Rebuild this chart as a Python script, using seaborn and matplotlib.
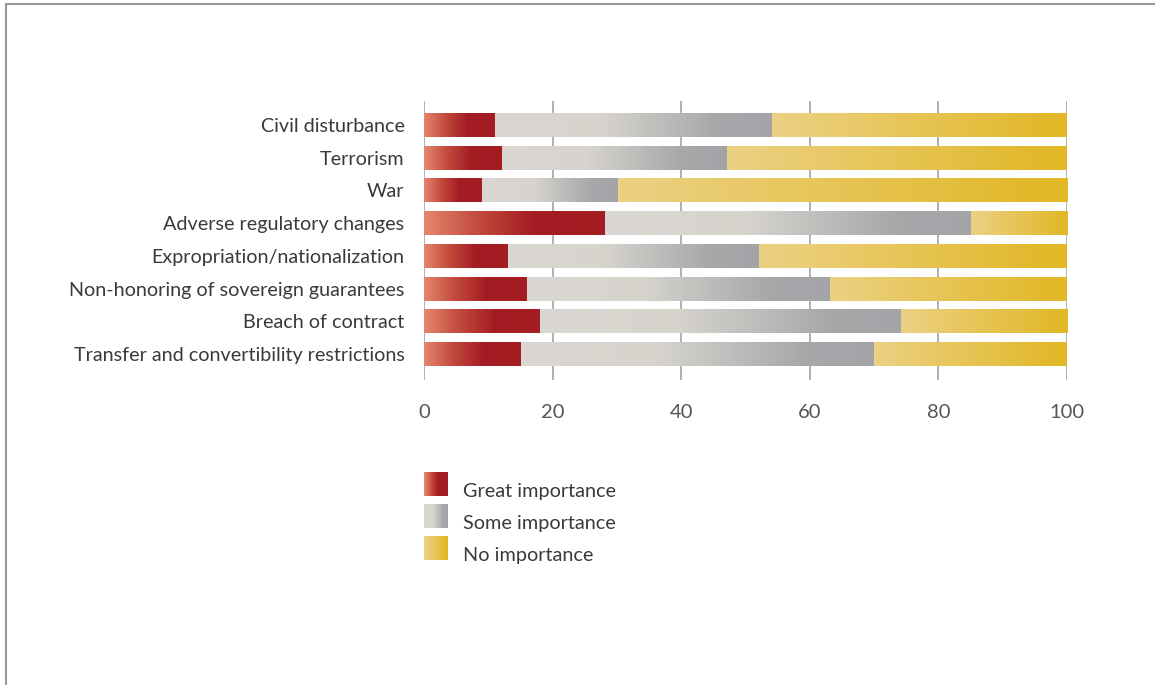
import numpy as np
import pandas as pd
import seaborn as sns
import matplotlib.pyplot as plt
from matplotlib.colors import LinearSegmentedColormap
from matplotlib.patches import Rectangle
from matplotlib.legend_handler import HandlerBase
from matplotlib.lines import Line2D

# survey data (percent of respondents)
risks = ["Civil disturbance", "Terrorism", "War", "Adverse regulatory changes",
         "Expropriation/nationalization", "Non-honoring of sovereign guarantees",
         "Breach of contract", "Transfer and convertibility restrictions"]
great = [11, 12, 9, 28, 13, 16, 18, 15]
some = [43, 35, 21, 57, 39, 47, 56, 55]
none_ = [46, 53, 70, 15, 48, 37, 26, 30]
levels = ["Great importance", "Some importance", "No importance"]
xticks = [0, 20, 40, 60, 80, 100]

sns.set_style("white")
plt.rcParams["font.family"] = ["Lato", "DejaVu Sans"]
text_col = "#3a3a3a"

# gradients for each level (left -> right within a segment)
cmaps = {
    "Great importance": LinearSegmentedColormap.from_list(
        "red", [(0, "#e6866f"), (0.3, "#c24a3c"), (0.6, "#a51d24"), (1, "#a31c22")]),
    "Some importance": LinearSegmentedColormap.from_list(
        "gray", [(0, "#dad7d2"), (0.38, "#d7d4ce"), (0.8, "#a7a8aa"), (1, "#a3a4a7")]),
    "No importance": LinearSegmentedColormap.from_list(
        "yel", [(0, "#ecd184"), (1, "#e1b724")]),
}

df = pd.DataFrame({"risk": risks, "great": great, "some": some, "none": none_})
df["c1"] = df["great"]
df["c2"] = df["great"] + df["some"]
df["c3"] = df["c2"] + df["none"]

fig = plt.figure(figsize=(11.55, 6.85), dpi=100)
ax = fig.add_axes([424 / 1155, 1 - 380 / 685, 643 / 1155, 279 / 685])

# stacked: draw totals back to front
for col, lev in zip(["c3", "c2", "c1"], levels[::-1]):
    n0 = len(ax.patches)
    sns.barplot(data=df, x=col, y="risk", orient="h", color="white", width=0.73,
                saturation=1, ax=ax, zorder=3)
    for p in ax.patches[n0:]:
        p.set_gid(lev)

# replace each visible segment with a gradient image
ax.set_xlim(0, 100)
ax.set_ylim(7.795, -0.734)
starts = {"Great importance": None, "Some importance": "c1", "No importance": "c2"}
for p in list(ax.patches):
    lev = p.get_gid()
    y0 = p.get_y()
    h = p.get_height()
    i = int(round(y0 + h / 2))
    x1 = p.get_x() + p.get_width()
    x0 = 0 if starts[lev] is None else df[starts[lev]].iloc[i]
    grad = np.linspace(0, 1, 256).reshape(1, -1)
    ax.imshow(grad, cmap=cmaps[lev], aspect="auto", extent=(x0, x1, y0 + h, y0),
              zorder=3, interpolation="bilinear")
    p.set_visible(False)

ax.set_xlim(0, 100)
ax.set_ylim(7.795, -0.734)
ax.set_xticks(xticks)
ax.set_xticklabels([str(t) for t in xticks])
ax.grid(axis="x", color="#aaaaaa", linewidth=1.3, zorder=0)
ax.grid(axis="y", visible=False)
for s in ax.spines.values():
    s.set_visible(False)
ax.tick_params(axis="x", length=0, pad=17, labelsize=14.5, labelcolor="#555555")
ax.tick_params(axis="y", length=0, pad=14, labelsize=14.2, labelcolor=text_col)
ax.set_xlabel("")
ax.set_ylabel("")


class GradientHandler(HandlerBase):
    # swatch sits a bit higher than the text centre, like the original
    def create_artists(self, legend, orig_handle, xdescent, ydescent, width,
                       height, fontsize, trans):
        cmap = cmaps[orig_handle.get_label()]
        n = 24
        arts = []
        for k in range(n):
            r = Rectangle((-xdescent + width * k / n, -ydescent + 4.3), width / n + 0.3, height,
                          facecolor=cmap(k / (n - 1)), edgecolor="none", transform=trans)
            arts.append(r)
        return arts


handles = [Line2D([], [], label=l) for l in levels]
fig.legend(handles=handles, labels=levels, handler_map={Line2D: GradientHandler()},
           loc="upper left", bbox_to_anchor=(424 / 1155, 1 - 478 / 685), frameon=False,
           fontsize=14.3, labelcolor=text_col, handlelength=1.21, handleheight=1.485,
           handletextpad=0.75, labelspacing=0.40, borderaxespad=0, borderpad=0)

# page frame (top and left rules)
fig.add_artist(Line2D([6 / 1155, 1], [1 - 4 / 685, 1 - 4 / 685], transform=fig.transFigure,
                      color="#9a9a9a", linewidth=1.5))
fig.add_artist(Line2D([6 / 1155, 6 / 1155], [0, 1 - 4 / 685], transform=fig.transFigure,
                      color="#9a9a9a", linewidth=1.5))

fig.savefig("out.png", dpi=100)
